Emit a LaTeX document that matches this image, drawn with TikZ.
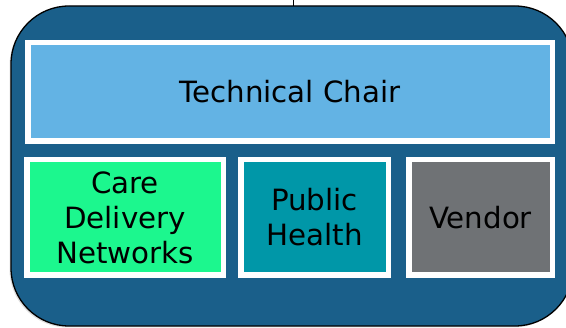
\documentclass[tikz,border=0pt]{standalone}
\usepackage{fontspec}
\setmainfont{DejaVu Sans}
\usetikzlibrary{shadows}
\definecolor{panelblue}{RGB}{26,95,138}
\definecolor{chairblue}{RGB}{99,179,228}
\definecolor{cdngreen}{RGB}{28,247,142}
\definecolor{phteal}{RGB}{0,151,168}
\definecolor{vendgray}{RGB}{111,114,117}
\begin{document}
\begin{tikzpicture}[x=1pt,y=-1pt,
  panel/.style={draw=black, line width=1.3pt, fill=panelblue, rounded corners=58pt,
    inner sep=0pt, outer sep=0pt,
    drop shadow={shadow xshift=-1.5pt, shadow yshift=-1.5pt, opacity=0.25}},
  unit/.style={draw=white, line width=5.5pt, inner sep=0pt, outer sep=0pt,
    align=center, font=\fontsize{29.3}{35}\selectfont, text=black,
    drop shadow={shadow xshift=2pt, shadow yshift=-3pt, opacity=0.45, fill=black!80}},
  link/.style={draw=black, line width=0.8pt}]
\useasboundingbox (0,0) rectangle (566,328);
\clip (0,0) rectangle (566,328);
\node[panel, minimum width=562pt, minimum height=320pt] (panel) at (292,166) {};
\node[unit, fill=chairblue, minimum width=524.5pt, minimum height=98.5pt] (chair) at (290,92) {Technical Chair};
\node[unit, fill=cdngreen, minimum width=196.5pt, minimum height=115.5pt] (cdn) at (125,217.5) {Care\\Delivery\\Networks};
\node[unit, fill=phteal, minimum width=147.5pt, minimum height=115.5pt] (ph) at (314.5,217.5) {Public\\Health};
\node[unit, fill=vendgray, minimum width=143.5pt, minimum height=115.5pt] (vendor) at (480.5,217.5) {Vendor};
\coordinate (feed) at (293,-2);
\draw[link] (feed) -- (feed |- panel.north);
\end{tikzpicture}
\end{document}
